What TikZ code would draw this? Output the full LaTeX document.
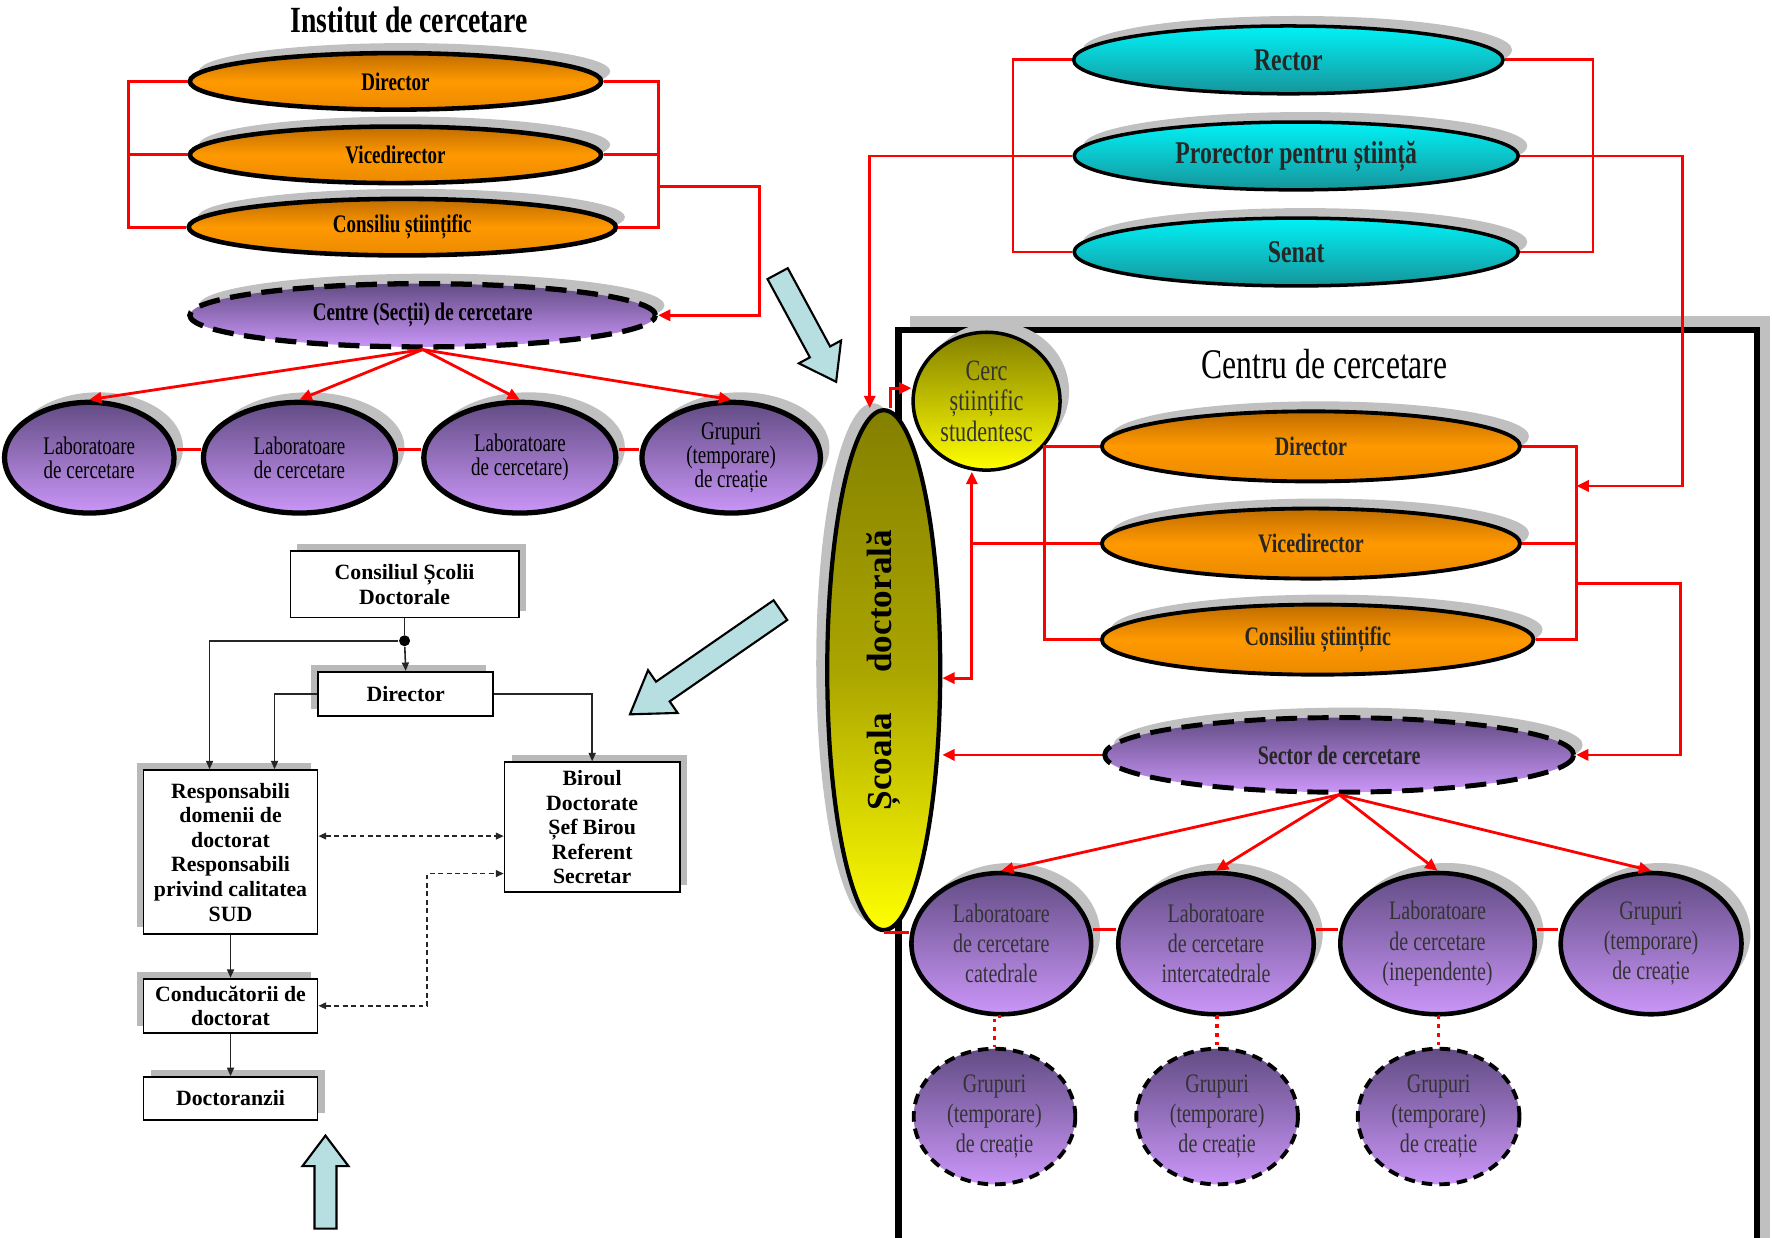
\documentclass[tikz,border=0pt]{standalone}
\usepackage{fontspec}
\setmainfont{Liberation Serif}
\newfontfamily\narrowserif[FakeStretch=0.75]{Liberation Serif}
\usetikzlibrary{shapes.geometric, arrows.meta, positioning, shadows}

\definecolor{orgtop}{RGB}{192,108,0}
\definecolor{orgmid}{RGB}{255,153,0}
\definecolor{orgbot}{RGB}{235,138,0}
\definecolor{cyantop}{RGB}{0,242,246}
\definecolor{cyanbot}{RGB}{22,148,155}
\definecolor{purtop}{RGB}{98,76,132}
\definecolor{purbot}{RGB}{202,150,248}
\definecolor{olivetop}{RGB}{132,128,0}
\definecolor{olivemid}{RGB}{170,165,0}
\definecolor{yelbot}{RGB}{255,255,0}
\definecolor{linkred}{RGB}{255,0,0}
\definecolor{arrowblue}{RGB}{183,222,224}
\definecolor{shadowgray}{RGB}{192,192,192}
\newcommand{\pxu}{0.11301mm}

\begin{document}
\begin{tikzpicture}[
    x=0.11301mm, y=-0.11301mm,
    upshadow/.style={drop shadow={shadow xshift=0.9mm, shadow yshift=1mm, fill=shadowgray, opacity=1}},
    leftshadow/.style={drop shadow={shadow xshift=-1.1mm, shadow yshift=0.7mm, fill=shadowgray, opacity=1}},
    boxshR/.style={drop shadow={shadow xshift=0.7mm, shadow yshift=0.7mm, fill=gray!55, opacity=1}},
    boxshL/.style={drop shadow={shadow xshift=-0.7mm, shadow yshift=0.7mm, fill=gray!55, opacity=1}},
    orgL/.style={ellipse, draw=black, line width=1.3pt, top color=orgtop, bottom color=orgbot, middle color=orgmid, upshadow, inner sep=0pt, minimum width=364*\pxu, minimum height=50*\pxu, font=\narrowserif\bfseries\fontsize{7.2}{8}\selectfont},
    centreL/.style={ellipse, draw=black, line width=1.5pt, dash pattern=on 6pt off 3pt, top color=purtop, bottom color=purbot, upshadow, inner sep=0pt, minimum width=412*\pxu, minimum height=56*\pxu, font=\narrowserif\bfseries\fontsize{7.2}{8}\selectfont},
    labL/.style={ellipse, draw=black, line width=1.5pt, top color=purtop, bottom color=purbot, upshadow, inner sep=0pt, minimum height=98*\pxu, align=center, font=\narrowserif\fontsize{7.2}{6.8}\selectfont},
    cyanR/.style={ellipse, draw=black, line width=1pt, top color=cyantop, bottom color=cyanbot, upshadow, inner sep=0pt, minimum width=393*\pxu, minimum height=60*\pxu, text=black!85, font=\narrowserif\bfseries\fontsize{9}{10}\selectfont},
    orgR/.style={ellipse, draw=black, line width=1.1pt, top color=orgtop, bottom color=orgbot, middle color=orgmid, upshadow, inner sep=0pt, minimum width=370*\pxu, minimum height=62*\pxu, text=black!85, font=\narrowserif\bfseries\fontsize{7.6}{8}\selectfont},
    sectorR/.style={ellipse, draw=black, line width=1.4pt, dash pattern=on 6pt off 3pt, top color=purtop, bottom color=purbot, upshadow, inner sep=0pt, minimum width=415*\pxu, minimum height=66*\pxu, text=black!85, font=\narrowserif\bfseries\fontsize{7.6}{8}\selectfont},
    labR/.style={ellipse, draw=black, line width=1.3pt, top color=purtop, bottom color=purbot, upshadow, inner sep=0pt, minimum height=125*\pxu, align=center, text=black!80, font=\narrowserif\fontsize{7.6}{8.6}\selectfont},
    grpR/.style={ellipse, draw=black, line width=1.1pt, dash pattern=on 3pt off 2pt, top color=purtop, bottom color=purbot, inner sep=0pt, minimum width=143*\pxu, minimum height=120*\pxu, align=center, text=black!80, font=\narrowserif\fontsize{7.6}{8.6}\selectfont},
    yelcirc/.style={ellipse, draw=black, line width=1pt, top color=olivetop, bottom color=yelbot, upshadow, inner sep=0pt, minimum width=130*\pxu, minimum height=122*\pxu, align=center, text=black!80, font=\narrowserif\fontsize{8.4}{8.6}\selectfont},
    scoalaell/.style={ellipse, draw=black, line width=1.2pt, top color=olivetop, bottom color=yelbot, middle color=olivemid, leftshadow, inner sep=0pt, minimum width=100*\pxu, minimum height=460*\pxu, font=\bfseries\fontsize{10}{12}\selectfont},
    flowbox/.style={rectangle, draw=black, line width=0.5pt, fill=white, align=center, inner sep=1pt, font=\bfseries\fontsize{6.2}{7}\selectfont},
    redline/.style={draw=linkred, line width=0.8pt},
    redarrow/.style={redline, -{Triangle[length=3.5pt, width=3.2pt]}},
    flowarrow/.style={draw=black!85, line width=0.45pt, -{Triangle[length=2.4pt, width=2pt]}},
    dotlink/.style={draw=black!85, line width=0.45pt, dash pattern=on 1.4pt off 1pt, {Triangle[length=2.2pt, width=1.9pt]}-{Triangle[length=2.2pt, width=1.9pt]}},
    bigarrow/.style={draw=black, line width=0.6pt, fill=arrowblue}
]
\useasboundingbox (0,0) rectangle (1568,1095);

% Institut de cercetare
\node[font=\narrowserif\bfseries\fontsize{10.5}{12}\selectfont] (insttitle) at (362,18) {Institut de cercetare};
\node[orgL] (dir1) at (350,72) {Director};
\node[orgL] (vice1) at (350,137) {Vicedirector};
\node[orgL, minimum width=378*\pxu] (cons1) at (356,201) {Consiliu științific};
\node[centreL] (centre1) at (374,279) {Centre (Secții) de cercetare};
\node[labL, minimum width=150*\pxu] (lab1a) at (79,405) {Laboratoare\\de cercetare};
\node[labL, minimum width=170*\pxu] (lab1b) at (265,405) {Laboratoare\\de cercetare};
\node[labL, minimum width=170*\pxu] (lab1c) at (460,405) {Laboratoare\\de cercetare)};
\node[labL, minimum width=158*\pxu] (lab1d) at (647,405) {Grupuri\\(temporare)\\de creație};

\coordinate (rbr1) at (583,165);
\draw[redline] (dir1.west) -- ++(-52,0) |- (cons1.west);
\draw[redline] (vice1.west) -- ++(-52,0);
\draw[redline] (dir1.east) -| (rbr1) |- (cons1.east);
\draw[redline] (vice1.east) -- (vice1.east -| rbr1);
\draw[redarrow] (rbr1) -- ++(89,0) |- (centre1.east);
\foreach \lab in {lab1a, lab1b, lab1c, lab1d}
  \draw[redarrow] (centre1.south) -- (\lab.north);
\foreach \a/\b in {lab1a/lab1b, lab1b/lab1c, lab1c/lab1d}
  \draw[redline] ([yshift=0.8mm]\a.east) -- ([yshift=0.8mm]\a.east -| \b.west);

% Scoala doctorala (flowchart)
\node[flowbox, boxshR, minimum width=202*\pxu, minimum height=59*\pxu] (csd) at (358,517) {Consiliul Școlii\\Doctorale};
\node[flowbox, boxshL, minimum width=155*\pxu, minimum height=39*\pxu] (dirb) at (359,614) {Director};
\node[flowbox, boxshL, minimum width=154*\pxu, minimum height=145*\pxu] (resp) at (204,754) {Responsabili\\domenii de\\doctorat\\Responsabili\\privind calitatea\\SUD};
\node[flowbox, boxshR, minimum width=155*\pxu, minimum height=115*\pxu] (birou) at (524,732) {Biroul\\Doctorate\\Șef Birou\\Referent\\Secretar};
\node[flowbox, boxshL, minimum width=154*\pxu, minimum height=48*\pxu] (cond) at (204,890) {Conducătorii de\\doctorat};
\node[flowbox, boxshR, minimum width=154*\pxu, minimum height=38*\pxu] (doct) at (204,972) {Doctoranzii};
\node[circle, fill=black, inner sep=0pt, minimum size=1.1mm] (split) at (358,567) {};

\draw[draw=black!85, line width=0.45pt] (csd.south) -- (split);
\draw[flowarrow] (split) -- (dirb.north);
\draw[flowarrow] (split) -| ([xshift=-2.1mm]resp.north);
\draw[flowarrow] (dirb.west) -| ([xshift=4.4mm]resp.north);
\draw[flowarrow] (dirb.east) -| (birou.north);
\draw[dotlink] ([yshift=1.6mm]resp.east) -- ([yshift=1.6mm]resp.east -| birou.west);
\coordinate (dotbend) at (378,773);
\draw[dotlink] (cond.east) -| (dotbend) -- (dotbend -| birou.west);
\draw[flowarrow] (resp) -- (cond);
\draw[flowarrow] (cond) -- (doct);

% big arrows
\begin{scope}[shift={(714,290)}, rotate=-61.6, x=1mm, y=1mm]
\draw[bigarrow] (-6.15,-1.15) -- (2.75,-1.15) -- (2.75,-2.4) -- (6.15,0) -- (2.75,2.4) -- (2.75,1.15) -- (-6.15,1.15) -- cycle;
\end{scope}
\begin{scope}[shift={(624,586)}, rotate=214.7, x=1mm, y=1mm]
\draw[bigarrow] (-9.15,-1.2) -- (5.15,-1.2) -- (5.15,-2.6) -- (9.15,0) -- (5.15,2.6) -- (5.15,1.2) -- (-9.15,1.2) -- cycle;
\end{scope}
\begin{scope}[shift={(288,1046)}, rotate=90, x=1mm, y=1mm]
\draw[bigarrow] (-4.65,-1.1) -- (1.6,-1.1) -- (1.6,-2.3) -- (4.65,0) -- (1.6,2.3) -- (1.6,1.1) -- (-4.65,1.1) -- cycle;
\end{scope}

% Universitate
\node[cyanR, minimum width=380*\pxu] (rector) at (1140,53) {Rector};
\node[cyanR] (prorector) at (1147,138) {Prorector pentru știință};
\node[cyanR] (senat) at (1147,223) {Senat};

% Centru de cercetare
\fill[shadowgray] (805,280) rectangle (1566,1110);
\draw[line width=1.8pt, fill=white] (795,292) rectangle (1555,1115);
\node[font=\narrowserif\fontsize{12}{14}\selectfont] (centrutitle) at (1172,322) {Centru de cercetare};
\node[scoalaell] (scoala) at (782,593) {\rotatebox{90}{Școala\hspace{4mm}doctorală}};
\node[yelcirc] (cerc) at (873,355) {Cerc\\științific\\studentesc};
\node[orgR] (dir2) at (1160,395) {Director};
\node[orgR] (vice2) at (1160,481) {Vicedirector};
\node[orgR, minimum width=382*\pxu] (cons2) at (1166,566) {Consiliu științific};
\node[sectorR] (sector) at (1185,668) {Sector de cercetare};
\node[labR, minimum width=159*\pxu] (lab2a) at (886,835) {Laboratoare\\de cercetare\\catedrale};
\node[labR, minimum width=173*\pxu] (lab2b) at (1076,835) {Laboratoare\\de cercetare\\intercatedrale};
\node[labR, minimum width=172*\pxu] (lab2c) at (1272,835) {Laboratoare\\de cercetare\\(inependente)};
\node[labR, minimum width=160*\pxu] (lab2d) at (1461,835) {Grupuri\\(temporare)\\de creație};
\node[grpR] (grp2a) at (880,988) {Grupuri\\(temporare)\\de creație};
\node[grpR] (grp2b) at (1077,988) {Grupuri\\(temporare)\\de creație};
\node[grpR] (grp2c) at (1273,988) {Grupuri\\(temporare)\\de creație};

% legaturi
\draw[redline] (rector.west) -- ++(-52,0) |- (senat.west);
\draw[redline] (rector.east) -- ++(78,0) |- (senat.east);
\draw[redarrow] (prorector.west) -| ([xshift=-1.4mm]scoala.north);
\draw[redarrow] ([xshift=0.7mm]scoala.north) |- ([yshift=1.3mm]cerc.west);
\coordinate (cbrA) at (1395,430);
\coordinate (cbrB) at (1395,516);
\draw[redarrow] (prorector.east) -- ++(144,0) |- (cbrA);
\draw[redline] (dir2.west) -- ++(-49,0) |- (cons2.west);
\coordinate (vjoin) at (860,481);
\draw[redline] (vice2.west) -- (vjoin);
\draw[redarrow] (vjoin) -- (vjoin |- cerc.south);
\draw[redarrow] (vjoin) |- ([yshift=-0.8mm]scoala.east);
\draw[redline] (dir2.east) -| (cbrB) |- (cons2.east);
\draw[redline] (vice2.east) -- (vice2.east -| cbrB);
\draw[redarrow] (cbrB) -- ++(92,0) |- (sector.east);
\draw[redarrow] (sector.west) -- (sector.west -| scoala.east);
\foreach \lab in {lab2a, lab2b, lab2c, lab2d}
  \draw[redarrow] (sector.south) -- (\lab.north);
\draw[redline] (scoala.south) -- (scoala.south -| lab2a.west);
\foreach \a/\b in {lab2a/lab2b, lab2b/lab2c, lab2c/lab2d}
  \draw[redline] ([yshift=1.4mm]\a.east) -- ([yshift=1.4mm]\a.east -| \b.west);
\foreach \a/\b in {lab2a/grp2a, lab2b/grp2b, lab2c/grp2c}
  \draw[redline, line width=1pt, dash pattern=on 1pt off 1.5pt] (\a.south) -- (\a.south -| \b.north) -- (\b.north);
\end{tikzpicture}
\end{document}
